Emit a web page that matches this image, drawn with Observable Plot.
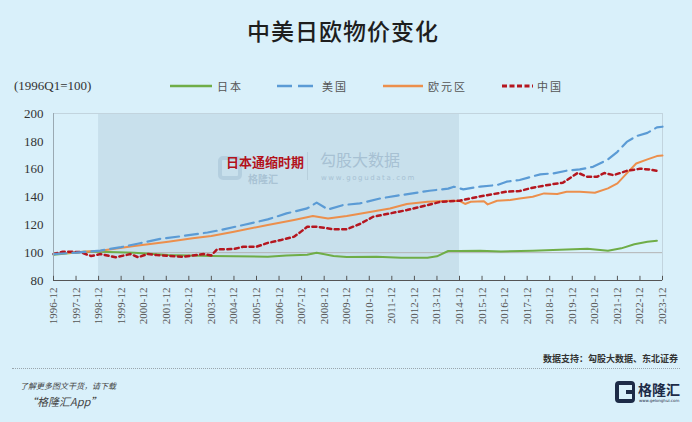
<!DOCTYPE html>
<html><head><meta charset="utf-8">
<script src="https://cdn.jsdelivr.net/npm/d3@7"></script>
<script src="https://cdn.jsdelivr.net/npm/@observablehq/plot@0.6"></script>
<style>
html,body{margin:0;padding:0;}
body{width:692px;height:422px;background:#d9f0fa;position:relative;overflow:hidden;font-family:"Noto Sans CJK SC","Noto Sans",sans-serif;}
.abs{position:absolute;white-space:nowrap;line-height:1;}
#chart{position:absolute;left:0;top:0;}
.lg{font-size:11px;color:#555;letter-spacing:2px;line-height:12px;}
</style></head>
<body>
<div id="chart"></div>
<div class="abs" style="left:0;width:686px;top:19px;text-align:center;font-size:23px;font-weight:500;color:#1e1e1e;letter-spacing:1px;">中美日欧物价变化</div>
<div class="abs" style="left:14px;top:79px;font-family:'Liberation Serif',serif;font-size:13px;color:#333;">(1996Q1=100)</div>
<div id="legend"></div>
<div class="abs" style="left:218px;top:156px;width:24px;height:24px;border:4px solid #8fb0c8;border-radius:5px;box-sizing:border-box;opacity:0.35;"></div>
<div class="abs" style="left:248px;top:174px;font-size:10px;color:#a9c3d4;font-weight:bold;">格隆汇</div>
<div class="abs" style="left:307px;top:152px;width:1px;height:28px;background:#b8cfdc;"></div>
<div class="abs" style="left:320px;top:151px;font-size:16px;color:#a7c1d3;">勾股大数据</div>
<div class="abs" style="left:321px;top:175px;font-size:7px;color:#a7c1d3;letter-spacing:1.6px;font-family:'DejaVu Sans',sans-serif;">www.gogudata.com</div>
<div class="abs" style="left:226px;top:155px;font-size:13px;font-weight:bold;color:#b3121b;">日本通缩时期</div>
<div class="abs" style="right:14px;top:354px;font-size:9px;font-weight:bold;color:#333;">数据支持：勾股大数据、东北证券</div>
<div class="abs" style="left:12px;top:368px;width:668px;border-top:1px dotted #9aa6ad;"></div>
<div class="abs" style="left:20px;top:382px;font-size:8px;font-style:italic;color:#444;">了解更多图文干货，请下载</div>
<div class="abs" style="left:26px;top:396px;font-size:11px;font-style:italic;color:#444;">“格隆汇App”</div>
<div class="abs" style="left:615px;top:381px;width:20px;height:22px;border:4px solid #1d2b47;border-right-width:3px;border-radius:4px;box-sizing:border-box;"></div>
<div class="abs" style="left:626px;top:390px;width:9px;height:4px;background:#1d2b47;"></div>
<div class="abs" style="left:638px;top:382px;font-size:14px;font-weight:bold;color:#1d2b47;">格隆汇</div>
<div class="abs" style="left:639px;top:399px;font-size:4px;color:#1d2b47;font-family:'DejaVu Sans',sans-serif;">www.gelonghui.com</div>
<script>
const tickLabels = ["1996-12","1997-12","1998-12","1999-12","2000-12","2001-12","2002-12","2003-12","2004-12","2005-12","2006-12","2007-12","2008-12","2009-12","2010-12","2011-12","2012-12","2013-12","2014-12","2015-12","2016-12","2017-12","2018-12","2019-12","2020-12","2021-12","2022-12","2023-12"];
const yTicks = [80,100,120,140,160,180,200];
const deflation = {label:"日本通缩时期", start:"1998-12", end:"2014-12"};

const seriesNames = ["日本","美国","欧元区","中国"];

const japanDates = ["1996-12","1998-04","1999-01","2000-07","2002-01","2003-12","2006-06","2007-04","2008-03","2008-08","2009-05","2009-12","2011-04","2012-05","2013-07","2013-12","2014-06","2014-12","2015-11","2016-10","2018-03","2019-09","2020-08","2021-07","2022-02","2022-09","2023-04","2023-09"];
const japanValues = [98.5,100.6,100.6,100,98.3,97.6,97.1,98,98.5,100,97.6,96.8,97.1,96.4,96.4,97.4,101.2,101.2,101.4,100.8,101.4,102.3,102.8,101.4,103.1,106,107.8,108.6];

const usDates = ["1996-12","1997-12","1999-01","1999-12","2000-10","2001-09","2002-08","2003-10","2004-05","2005-05","2006-06","2007-04","2008-03","2008-08","2009-02","2009-10","2010-07","2011-06","2012-03","2012-11","2013-08","2014-06","2014-09","2015-02","2015-11","2016-08","2017-01","2017-08","2018-07","2019-02","2019-09","2020-04","2020-11","2021-07","2021-12","2022-05","2022-10","2023-04","2023-09","2023-12"];
const usValues = [99,100,101.5,104,106.8,110,111.8,114.5,116.3,119.9,123.9,128.2,131.8,136,131,134.2,135.4,139,141,142.6,144.5,146,147.4,145.5,147.5,148.6,151,152.2,156.3,157,158.9,159.8,161.7,167,172.5,179.6,183.7,186.1,190,190.5];

const euroDates = ["1996-12","1998-04","1999-01","2000-07","2002-01","2003-02","2003-12","2004-12","2006-06","2007-08","2008-06","2009-02","2009-12","2010-07","2011-11","2012-08","2013-07","2014-07","2014-12","2015-03","2015-06","2016-01","2016-03","2016-08","2017-03","2017-08","2018-03","2018-09","2019-04","2019-09","2020-04","2020-12","2021-07","2021-12","2022-05","2022-10","2023-04","2023-09","2023-12"];
const euroValues = [99,100.7,101.4,104.8,107.9,110.3,112,115.1,119.9,123.5,126.3,124.6,126.3,128,131.8,135,136.6,137.3,137.2,135,136.6,137,134.7,137.3,137.8,139,140.2,142.6,142.1,143.8,143.8,143.1,146.2,149.8,157,164.1,167,169.4,169.8];

const chinaDates = ["1996-12","1997-05","1998-02","1998-08","1999-01","1999-09","2000-05","2000-09","2001-02","2001-07","2002-09","2003-08","2003-12","2004-03","2004-12","2005-05","2005-12","2006-06","2007-01","2007-08","2007-11","2008-03","2008-08","2009-05","2009-12","2010-07","2011-02","2011-11","2012-08","2013-07","2014-02","2014-12","2015-10","2016-06","2017-01","2017-08","2018-03","2019-02","2019-07","2020-03","2020-08","2021-01","2021-05","2021-10","2022-05","2022-12","2023-05","2023-09"];
const chinaValues = [99,100.7,100.5,97.6,99,96.7,99,96.7,99,98.3,97,99,98,102.4,102.6,104.3,104.3,107,109.1,111.5,114.4,118.6,118.6,116.8,116.8,120.6,125.8,128.2,130.6,134.2,136.6,137.3,140.2,142.1,143.8,144.3,146.7,149.3,150.2,157.4,154.5,154.5,157.2,155.7,158.8,160.3,159.8,158.8];

const colors = {"日本":"#6fad47","美国":"#5b9bd5","欧元区":"#ec8f4c","中国":"#b5161f"};
const dashes = {"日本":null,"美国":"13,6","欧元区":null,"中国":"4,3.5"};
const widths = {"日本":2,"美国":2.2,"欧元区":2,"中国":2.5};

const parse = d3.utcParse("%Y-%m");
const toRows = (name, dates, values) => dates.map((d,i) => ({series:name, date:parse(d), value:values[i]}));
const rows = {
  "日本": toRows("日本", japanDates, japanValues),
  "美国": toRows("美国", usDates, usValues),
  "欧元区": toRows("欧元区", euroDates, euroValues),
  "中国": toRows("中国", chinaDates, chinaValues)
};
const tickDates = tickLabels.map(parse);
const x0 = tickDates[0], x1 = tickDates[tickDates.length-1];
const lineMark = name => Plot.lineY(rows[name], {x:"date", y:"value", stroke:colors[name], strokeWidth:widths[name], strokeDasharray:dashes[name], strokeLinejoin:"round"});

const chart = Plot.plot({
  width:692, height:422,
  marginLeft:53, marginRight:30, marginTop:113, marginBottom:142,
  style:{background:"transparent", fontFamily:"'Liberation Serif', serif"},
  x:{type:"utc", domain:[x0,x1]},
  y:{domain:[yTicks[0], yTicks[yTicks.length-1]]},
  marks:[
    Plot.rect([deflation], {x1:d=>parse(d.start), x2:d=>parse(d.end), y1:yTicks[0], y2:yTicks[yTicks.length-1], fill:"#c8e0ec"}),
    Plot.frame({stroke:"#c2d4de", strokeWidth:1}),
    Plot.ruleY([100], {stroke:"#b3b3b3", strokeWidth:1}),
    lineMark("日本"), lineMark("欧元区"), lineMark("中国"), lineMark("美国"),
    Plot.ruleY([yTicks[0]], {stroke:"#555", strokeWidth:1}),
    Plot.ruleX([x0], {stroke:"#9aa9b2", strokeWidth:1}),
    Plot.ruleX(tickDates, {y1:yTicks[0], y2:yTicks[0]+3, stroke:"#555", strokeWidth:1}),
    Plot.axisX({ticks:tickDates, tickFormat:d3.utcFormat("%Y-%m"), tickRotate:-90, tickSize:0, tickPadding:7, fontSize:11, fill:"#555", label:null}),
    Plot.axisY({ticks:yTicks, tickSize:0, tickPadding:10, fontSize:13, fill:"#333", label:null})
  ]
});
document.getElementById("chart").append(chart);

// legend
const legendPos = {"日本":[170,42,217],"美国":[277,41,322],"欧元区":[383,40,428],"中国":[502,31,537]};
const lg = document.getElementById("legend");
seriesNames.forEach(name => {
  const [lx, lw, tx] = legendPos[name];
  const svg = document.createElementNS("http://www.w3.org/2000/svg","svg");
  svg.setAttribute("width", lw); svg.setAttribute("height", 6);
  svg.style.position = "absolute"; svg.style.left = lx+"px"; svg.style.top = "83px";
  const ln = document.createElementNS("http://www.w3.org/2000/svg","line");
  ln.setAttribute("x1",0); ln.setAttribute("x2",lw); ln.setAttribute("y1",3); ln.setAttribute("y2",3);
  ln.setAttribute("stroke", colors[name]); ln.setAttribute("stroke-width", widths[name]+0.4);
  if (dashes[name]) ln.setAttribute("stroke-dasharray", name==="美国" ? "15,6" : "5,2.5");
  svg.append(ln); lg.append(svg);
  const t = document.createElement("div");
  t.className = "abs lg"; t.style.left = tx+"px"; t.style.top = "80px"; t.textContent = name;
  lg.append(t);
});
</script>
</body></html>
